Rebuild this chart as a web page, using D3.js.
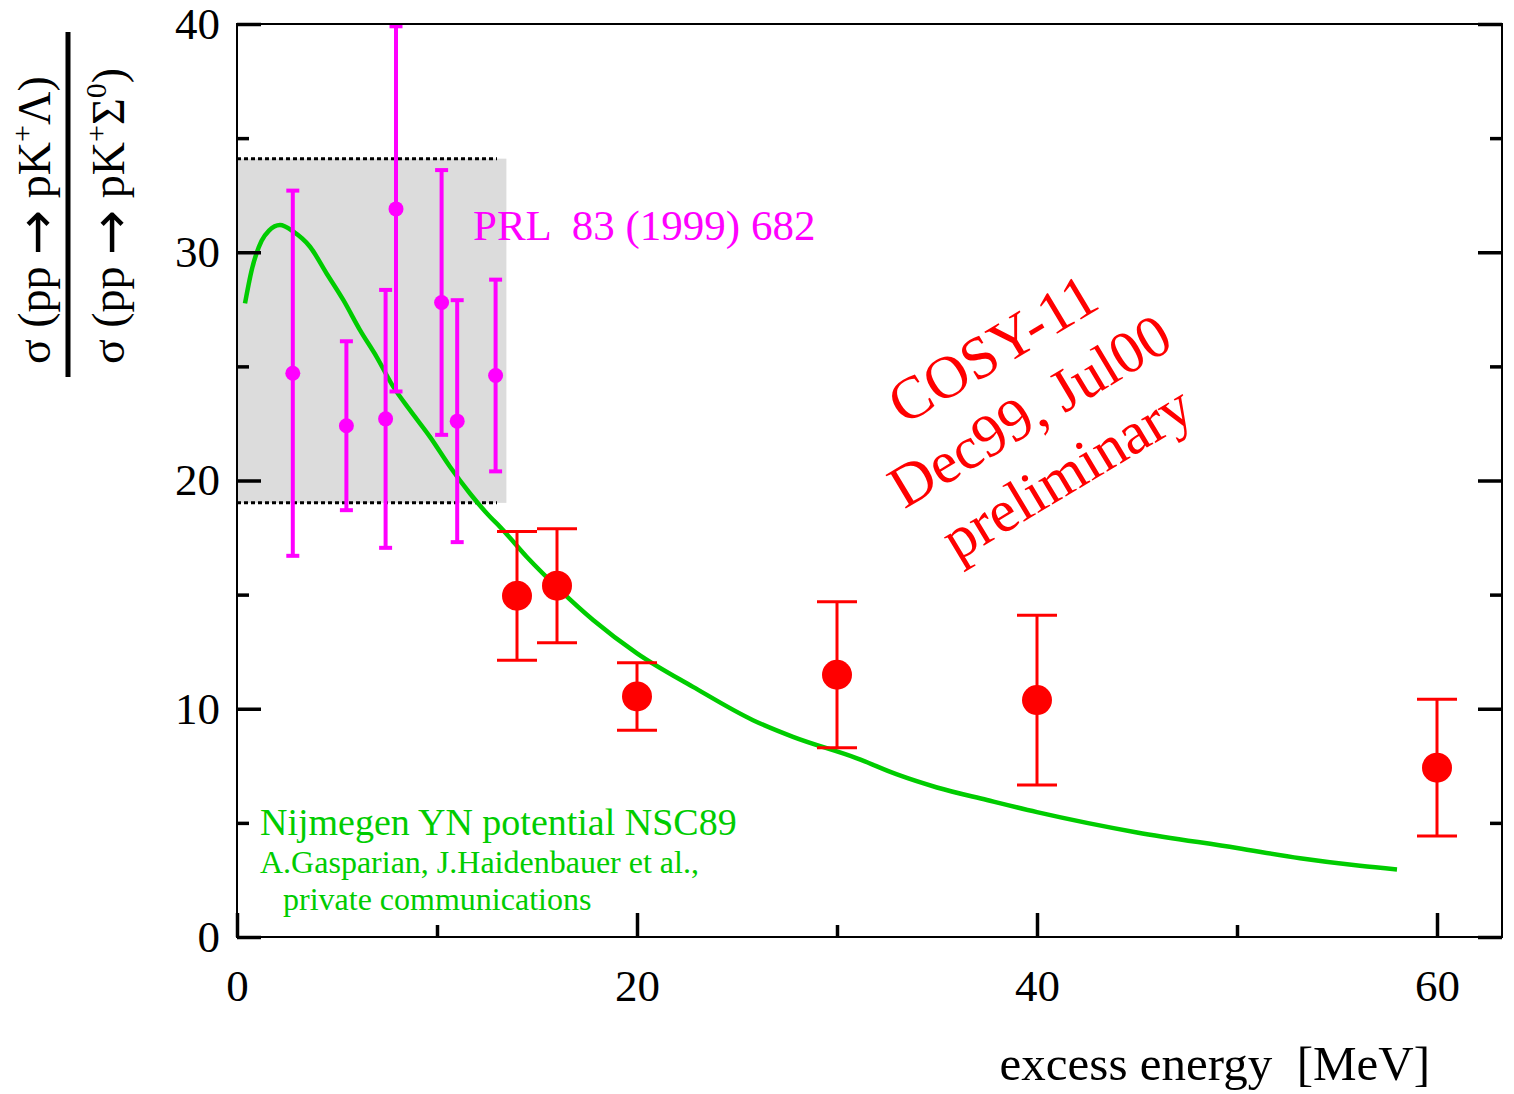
<!DOCTYPE html>
<html>
<head>
<meta charset="utf-8">
<script src="https://cdn.jsdelivr.net/npm/d3@7"></script>
<style>
  html, body { margin: 0; padding: 0; background: #fff; }
  svg text { font-family: "Liberation Serif", "Times New Roman", serif; }
</style>
</head>
<body>
<svg id="chart" width="1514" height="1094"></svg>
<script>
// PRL 83 (1999) 682 measurements
const prlEnergy = [2.79, 5.47, 7.43, 7.95, 10.23, 11.01, 12.93];
const prlRatio  = [24.7, 22.4, 22.7, 31.9, 27.8, 22.6, 24.6];
const prlError  = [8.0, 3.7, 5.65, 8.0, 5.8, 5.3, 4.2];

// COSY-11 Dec99 / Jul00 preliminary measurements
const cosyEnergy = [14, 16, 20, 30, 40, 60];
const cosyRatio  = [14.95, 15.39, 10.54, 11.49, 10.38, 7.42];
const cosyError  = [2.82, 2.5, 1.48, 3.2, 3.72, 3.0];

// Nijmegen YN potential NSC89 prediction
const modelEnergy = [0.4, 0.73, 1.23, 1.6, 2.15, 2.82, 3.65, 4.48, 5.32, 6.15, 6.98, 7.82, 8.65,
                     9.65, 10.65, 11.65, 12.65, 13.15, 14.48, 16.15, 17.82, 20, 22.8, 25.8, 27.8,
                     31, 33, 35, 37.5, 40, 45, 50, 53.15, 56.15, 58];
const modelRatio  = [27.76, 29.2, 30.5, 30.95, 31.19, 30.9, 30.24, 29.07, 27.9, 26.59, 25.42, 24.1, 23.08,
                     21.91, 20.6, 19.43, 18.41, 17.97, 16.66, 15.2, 13.88, 12.43, 10.96, 9.5, 8.77,
                     7.83, 7.12, 6.55, 6.0, 5.47, 4.58, 3.9, 3.45, 3.12, 2.96];

// band spanned by the PRL data
const bandEnergy = [0, 13.47];
const bandRatio  = [19.02, 34.1];
const bandLineEnd = 13.0;

const xMajorTicks = [0, 20, 40, 60];
const xMinorTicks = [10, 30, 50];
const yMajorTicks = [0, 10, 20, 30, 40];
const yMinorTicks = [5, 15, 25, 35];

const svg = d3.select("#chart");
const margin = { left: 237, top: 24, right: 12, bottom: 157 };
const W = 1514, H = 1094;
const x = d3.scaleLinear().domain([0, 63.25]).range([margin.left, W - margin.right]);
const y = d3.scaleLinear().domain([0, 40]).range([H - margin.bottom, margin.top]);

const RED = "#ff0000", MAG = "#ff00ff", GREEN = "#00cc00";

// clip to the plotting frame
svg.append("defs").append("clipPath").attr("id", "frameClip")
  .append("rect")
  .attr("x", x(0)).attr("y", y(40))
  .attr("width", x(63.25) - x(0)).attr("height", y(0) - y(40));

const plot = svg.append("g").attr("clip-path", "url(#frameClip)");

// shaded band
plot.append("rect")
  .attr("x", x(bandEnergy[0])).attr("y", y(bandRatio[1]))
  .attr("width", x(bandEnergy[1]) - x(bandEnergy[0]))
  .attr("height", y(bandRatio[0]) - y(bandRatio[1]))
  .attr("fill", "#dcdcdc");

bandRatio.forEach(v => {
  plot.append("line")
    .attr("x1", x(0)).attr("x2", x(bandLineEnd))
    .attr("y1", y(v)).attr("y2", y(v))
    .attr("stroke", "#000").attr("stroke-width", 3)
    .attr("stroke-dasharray", "4,3");
});

// model curve
const model = modelEnergy.map((e, i) => [e, modelRatio[i]]);
plot.append("path")
  .datum(model)
  .attr("d", d3.line().x(d => x(d[0])).y(d => y(d[1])).curve(d3.curveMonotoneX))
  .attr("fill", "none").attr("stroke", GREEN).attr("stroke-width", 4.5)
  .attr("stroke-linejoin", "round");

// error bars with points
function drawSeries(ex, ry, err, color, r, cap, sw) {
  const g = plot.append("g");
  ex.forEach((e, i) => {
    const cx = x(e), top = y(ry[i] + err[i]), bot = y(ry[i] - err[i]);
    g.append("line").attr("x1", cx).attr("x2", cx).attr("y1", top).attr("y2", bot)
      .attr("stroke", color).attr("stroke-width", sw);
    [top, bot].forEach(yy => g.append("line")
      .attr("x1", cx - cap).attr("x2", cx + cap).attr("y1", yy).attr("y2", yy)
      .attr("stroke", color).attr("stroke-width", sw));
    g.append("circle").attr("cx", cx).attr("cy", y(ry[i])).attr("r", r).attr("fill", color);
  });
}
drawSeries(prlEnergy, prlRatio, prlError, MAG, 7.5, 6.5, 4);
drawSeries(cosyEnergy, cosyRatio, cosyError, RED, 15, 20, 3);

// axes with inward ticks
const axisG = svg.append("g");
function tickAxis(axis, transform, withLabels) {
  const g = axisG.append("g").attr("transform", transform).call(axis);
  g.select(".domain").remove();
  g.selectAll(".tick line").attr("stroke", "#000").attr("stroke-width", 3.5);
  g.selectAll(".tick text").attr("font-size", 45).attr("fill", "#000")
    .attr("font-family", "'Liberation Serif','Times New Roman',serif");
  if (!withLabels) g.selectAll(".tick text").remove();
  return g;
}
tickAxis(d3.axisBottom(x).tickValues(xMajorTicks).tickSizeInner(-24).tickSizeOuter(0).tickPadding(32).tickFormat(d3.format("d")),
  `translate(0,${y(0)})`, true);
tickAxis(d3.axisBottom(x).tickValues(xMinorTicks).tickSizeInner(-12).tickSizeOuter(0),
  `translate(0,${y(0)})`, false);
tickAxis(d3.axisLeft(y).tickValues(yMajorTicks).tickSizeInner(-24).tickSizeOuter(0).tickPadding(17).tickFormat(d3.format("d")),
  `translate(${x(0)},0)`, true);
tickAxis(d3.axisLeft(y).tickValues(yMinorTicks).tickSizeInner(-12).tickSizeOuter(0),
  `translate(${x(0)},0)`, false);
tickAxis(d3.axisRight(y).tickValues(yMajorTicks).tickSizeInner(-24).tickSizeOuter(0),
  `translate(${x(63.25)},0)`, false);
tickAxis(d3.axisRight(y).tickValues(yMinorTicks).tickSizeInner(-12).tickSizeOuter(0),
  `translate(${x(63.25)},0)`, false);

// frame
svg.append("rect")
  .attr("x", x(0)).attr("y", y(40))
  .attr("width", x(63.25) - x(0)).attr("height", y(0) - y(40))
  .attr("fill", "none").attr("stroke", "#000").attr("stroke-width", 2);

// x-axis title
svg.append("text")
  .attr("x", 1430).attr("y", 1080).attr("text-anchor", "end")
  .attr("font-size", 49).style("white-space", "pre")
  .text("excess energy  [MeV]");

// y-axis title as a fraction
const yt = svg.append("g");
function fracLine(bx, parts) {
  const t = yt.append("text")
    .attr("transform", `translate(${bx},364) rotate(-90)`)
    .attr("font-size", 46);
  parts.forEach(p => {
    const s = t.append("tspan").text(p.t);
    if (p.sup) s.attr("font-size", 30);
    if (p.dy) s.attr("dy", p.dy);
    if (p.arrow) s.attr("font-family", "'DejaVu Sans', sans-serif").attr("font-size", 54);
  });
}
fracLine(50, [{ t: "σ (pp " }, { t: "→", arrow: true, dy: 5 }, { t: " pK", dy: -5 },
              { t: "+", sup: true, dy: -18 }, { t: "Λ)", dy: 18 }]);
fracLine(124, [{ t: "σ (pp " }, { t: "→", arrow: true, dy: 5 }, { t: " pK", dy: -5 },
               { t: "+", sup: true, dy: -18 }, { t: "Σ", dy: 18 },
               { t: "0", sup: true, dy: -18 }, { t: ")", dy: 18 }]);
yt.append("line").attr("x1", 68).attr("x2", 68).attr("y1", 32).attr("y2", 377)
  .attr("stroke", "#000").attr("stroke-width", 5);

// annotations
svg.append("text")
  .attr("x", 473).attr("y", 240).attr("font-size", 43).attr("fill", MAG)
  .style("white-space", "pre")
  .text("PRL  83 (1999) 682");

const cosy = svg.append("g").attr("transform", "translate(1040,428) rotate(-31)");
["COSY-11", "Dec99, Jul00", "preliminary"].forEach((s, i) => {
  cosy.append("text").attr("x", 0).attr("y", (i - 1) * 72)
    .attr("text-anchor", "middle").attr("font-size", 60).attr("fill", RED).text(s);
});

svg.append("text").attr("x", 260).attr("y", 835).attr("font-size", 38).attr("fill", GREEN)
  .text("Nijmegen YN potential NSC89");
svg.append("text").attr("x", 260).attr("y", 873).attr("font-size", 32).attr("fill", GREEN)
  .text("A.Gasparian, J.Haidenbauer et al.,");
svg.append("text").attr("x", 283).attr("y", 910).attr("font-size", 32).attr("fill", GREEN)
  .text("private communications");
</script>
</body>
</html>
